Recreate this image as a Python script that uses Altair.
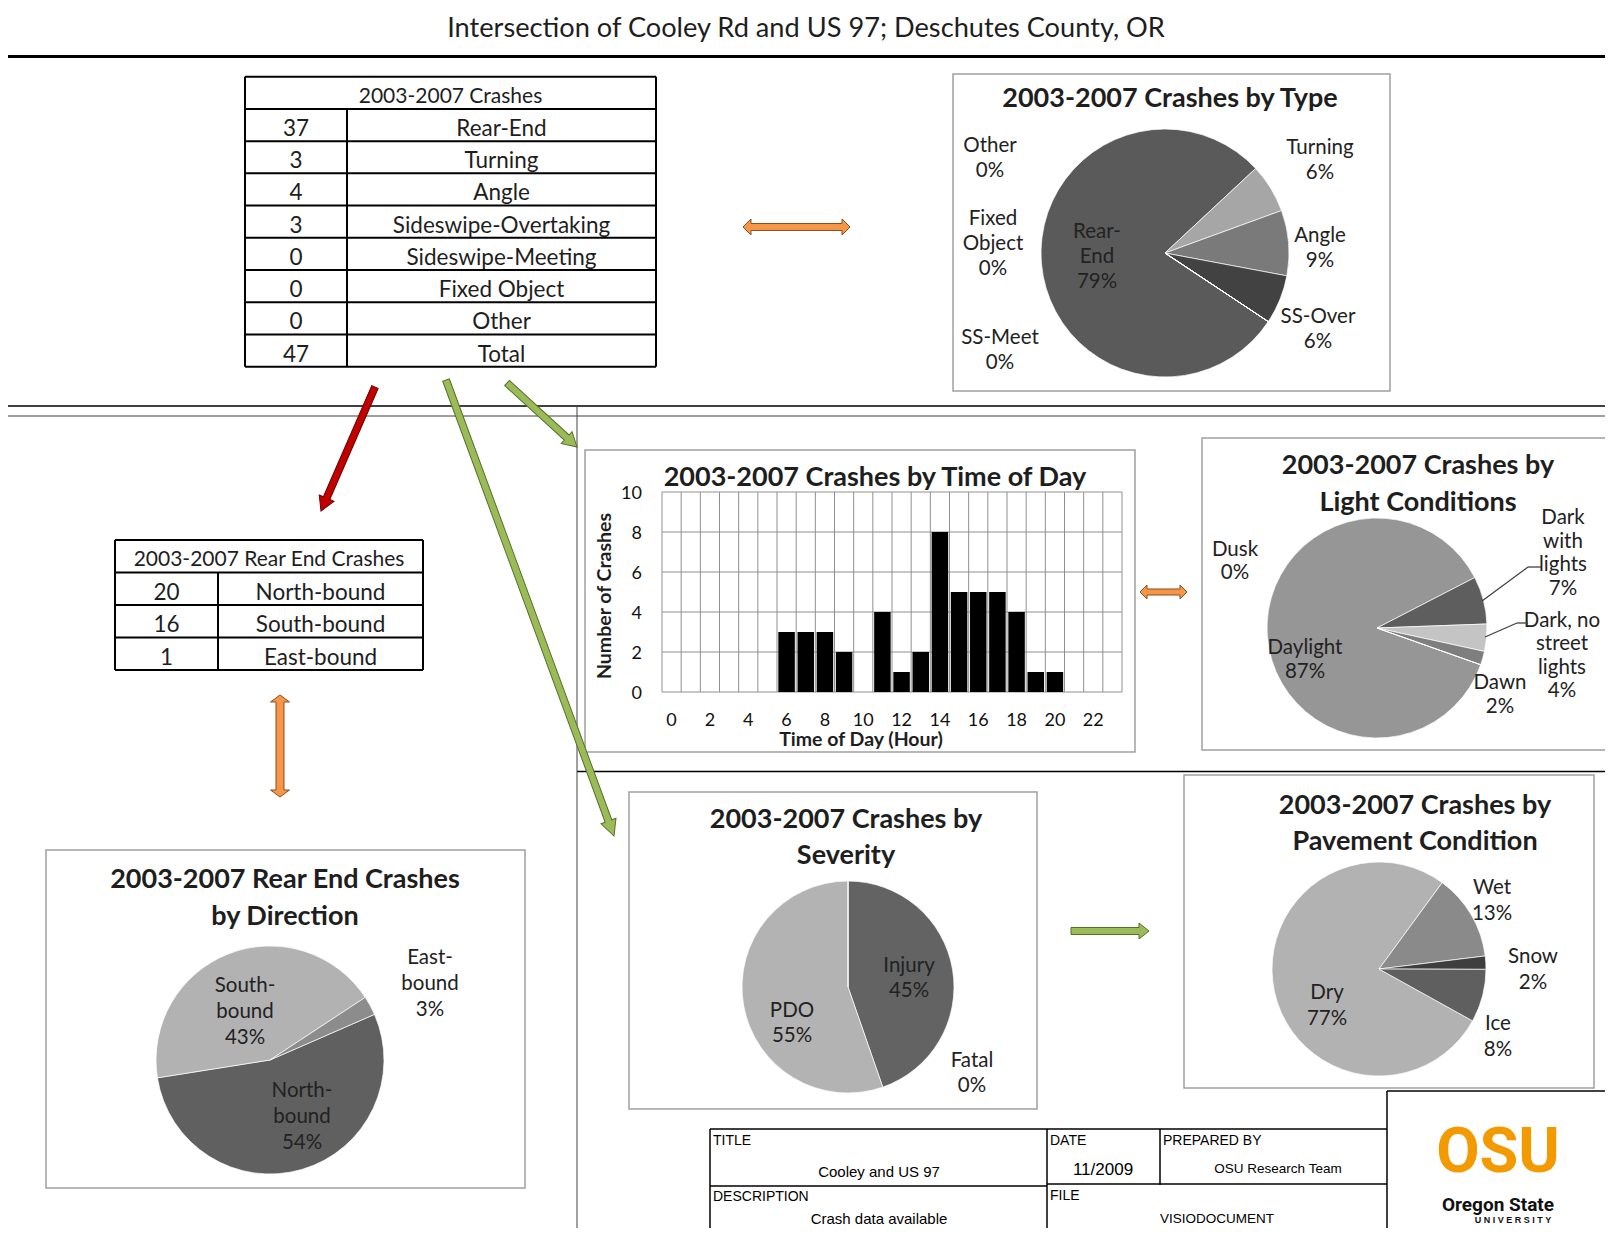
import math
import altair as alt
import pandas as pd

# ---------------- data ----------------
type_names = ["Rear-End", "Turning", "Angle", "Sideswipe-Overtaking",
              "Sideswipe-Meeting", "Fixed Object", "Other"]
type_counts = [37, 3, 4, 3, 0, 0, 0]
type_pie_names = ["Rear-\nEnd", "Turning", "Angle", "SS-Over", "SS-Meet",
                  "Fixed\nObject", "Other"]

dir_names = ["North-bound", "South-bound", "East-bound"]
dir_counts = [20, 16, 1]
dir_pie_names = ["North-\nbound", "South-\nbound", "East-\nbound"]

hours = list(range(24))
hour_counts = [0, 0, 0, 0, 0, 0, 3, 3, 3, 2, 0, 4, 1, 2, 8, 5, 5, 5, 4, 1, 1, 0, 0, 0]
hour_ticks = list(range(0, 24, 2))
count_ticks = [0, 2, 4, 6, 8, 10]

light_names = ["Daylight", "Dark with lights", "Dark, no street lights", "Dawn", "Dusk"]
light_pie_names = ["Daylight", "Dark\nwith\nlights", "Dark, no\nstreet\nlights", "Dawn", "Dusk"]
light_pct = [87, 7, 4, 2, 0]

sev_names = ["Injury", "PDO", "Fatal"]
sev_counts = [21, 26, 0]

pave_names = ["Dry", "Wet", "Snow", "Ice"]
pave_pct = [77, 13, 2, 8]

# ---------------- layout (reference pixel coordinates) ----------------
OFF = 8          # page margin: canvas pixel = reference pixel - OFF
W, H = 1597, 1220
FONT = "Lato"
TXT = "#1e1e1e"
DY = 3           # optical shift of Lato's middle baseline


def P(v):
    return v - OFF


def layout_text(rows, size, weight="normal", font=FONT, color=TXT,
                align="center", baseline="middle", angle=0, lh=None, dy=DY):
    df = pd.DataFrame(rows, columns=["x", "y", "t"])
    df["x"] = df["x"] - OFF
    df["y"] = df["y"] - OFF
    return alt.Chart(df).mark_text(
        font=font, fontSize=size, fontWeight=weight, color=color, align=align,
        baseline=baseline, angle=angle, lineBreak="\n", dy=dy,
        lineHeight=lh if lh else size * 1.25,
    ).encode(x=alt.X("x:Q", scale=None), y=alt.Y("y:Q", scale=None), text="t:N")


def layout_rules(segs, color, width):
    df = pd.DataFrame(segs, columns=["x", "y", "x2", "y2"]) - OFF
    return alt.Chart(df).mark_rule(color=color, strokeWidth=width).encode(
        x=alt.X("x:Q", scale=None), y=alt.Y("y:Q", scale=None), x2="x2:Q", y2="y2:Q")


def layout_frames(boxes, color, width):
    df = pd.DataFrame(boxes, columns=["x", "y", "x2", "y2"]) - OFF
    return alt.Chart(df).mark_rect(fillOpacity=0, stroke=color, strokeWidth=width).encode(
        x=alt.X("x:Q", scale=None), y=alt.Y("y:Q", scale=None), x2="x2:Q", y2="y2:Q")


def arrow_path(L, t, h, k, double):
    s = 2.0 / L
    t, h, k = t * s, h * s, k * s
    if double:
        pts = [(-1, 0), (-1 + k, -h), (-1 + k, -t), (1 - k, -t), (1 - k, -h), (1, 0),
               (1 - k, h), (1 - k, t), (-1 + k, t), (-1 + k, h)]
    else:
        pts = [(-1, -t), (1 - k, -t), (1 - k, -h), (1, 0), (1 - k, h), (1 - k, t), (-1, t)]
    return "M" + " L".join(f"{x:.4f},{y:.4f}" for x, y in pts) + " Z"


def arrow(x0, y0, x1, y1, t, h, k, double, fill, stroke):
    L = math.hypot(x1 - x0, y1 - y0)
    ang = math.degrees(math.atan2(y1 - y0, x1 - x0)) % 360
    df = pd.DataFrame({"x": [(x0 + x1) / 2 - OFF], "y": [(y0 + y1) / 2 - OFF]})
    return alt.Chart(df).mark_point(
        shape=arrow_path(L, t, h, k, double), size=L * L, angle=ang, filled=True,
        fill=fill, stroke=stroke, strokeWidth=1, opacity=1,
    ).encode(x=alt.X("x:Q", scale=None), y=alt.Y("y:Q", scale=None))


def table(header, left_col, right_col, L, R, T, B, split):
    n = len(left_col) + 1
    sx = alt.Scale(domain=[0, 1], range=[P(L), P(R)])
    sy = alt.Scale(domain=[0, n], range=[P(T), P(B)])
    f = (split - L) / (R - L)
    cells = []
    for i, (a, b) in enumerate(zip(left_col, right_col)):
        cells.append({"c": f / 2, "r": i + 1.5, "t": str(a)})
        cells.append({"c": (f + 1) / 2, "r": i + 1.5, "t": b})
    text = alt.Chart(pd.DataFrame(cells)).mark_text(
        font=FONT, fontSize=22.5, color=TXT, baseline="middle", dy=4).encode(
        x=alt.X("c:Q", scale=sx, axis=None), y=alt.Y("r:Q", scale=sy, axis=None), text="t:N")
    head = alt.Chart(pd.DataFrame([{"c": 0.5, "r": 0.5, "t": header}])).mark_text(
        font=FONT, fontSize=21, color=TXT, baseline="middle", dy=4).encode(
        x=alt.X("c:Q", scale=sx, axis=None), y=alt.Y("r:Q", scale=sy, axis=None), text="t:N")
    hl = pd.DataFrame({"r": list(range(n + 1)), "a": 0.0, "b": 1.0})
    hrules = alt.Chart(hl).mark_rule(color="black", strokeWidth=2).encode(
        y=alt.Y("r:Q", scale=sy, axis=None), x=alt.X("a:Q", scale=sx, axis=None), x2="b:Q")
    vl = pd.DataFrame({"c": [0.0, 1.0, f], "r0": [0, 0, 1], "r1": [n, n, n]})
    vrules = alt.Chart(vl).mark_rule(color="black", strokeWidth=2).encode(
        x=alt.X("c:Q", scale=sx, axis=None), y=alt.Y("r0:Q", scale=sy, axis=None), y2="r1:Q")
    return alt.layer(hrules, vrules, text, head)


def pie(names, disp, vals, colors, start_deg, cx, cy, r, label_pos, lh, pct=None):
    total = sum(vals)
    df = pd.DataFrame({"cat": names, "v": vals, "i": list(range(len(names)))})
    a = math.radians(start_deg)
    arcs = alt.Chart(df).mark_arc(radius=r, stroke="white", strokeWidth=0.7).encode(
        theta=alt.Theta("v:Q", stack=True,
                        scale=alt.Scale(domain=[0, total], range=[a, a + 2 * math.pi])),
        color=alt.Color("cat:N", scale=alt.Scale(domain=names, range=colors), legend=None),
        order=alt.Order("i:Q"),
        x=alt.value(P(cx)), y=alt.value(P(cy)),
    )
    rows = []
    for nm, d, v in zip(names, disp, vals):
        p = round(100 * v / total) if pct is None else v
        x, y = label_pos[nm]          # position of the label's first line
        rows.append((x, y, f"{d}\n{p}%"))
    labels = layout_text(rows, 20.5, color="#222222", lh=lh)
    return alt.layer(arcs, labels)


layers = []

# ---- structural lines and frames ----
layers.append(layout_rules([
    (0, 56.5, 1613, 56.5)], "black", 3))
layers.append(layout_rules([
    (0, 406, 1613, 406), (577, 771.5, 1613, 771.5),
    (1387, 1091, 1613, 1091), (1387, 1091, 1387, 1236),
    (710, 1129, 1387, 1129), (710, 1129, 710, 1236),
    (1047, 1129, 1047, 1236), (1160, 1129, 1160, 1185),
    (710, 1186, 1047, 1186), (1047, 1184, 1387, 1184)], "black", 1.5))
layers.append(layout_rules([(0, 416, 1613, 416)], "#7f7f7f", 1.5))
layers.append(layout_rules([(577, 406, 577, 1236)], "#404040", 1))
layers.append(layout_frames([
    (953, 74, 1390, 391), (585, 450, 1135, 752), (1202, 438, 1612, 750),
    (46, 850, 525, 1188), (629, 792, 1037, 1109), (1184, 775, 1594, 1088)],
    "#a0a0a0", 1.5))

# ---- page title ----
layers.append(layout_text([(806, 26, "Intersection of Cooley Rd and US 97; Deschutes County, OR")], 27.2))

# ---- tables ----
layers.append(table("2003-2007 Crashes", type_counts + [sum(type_counts)],
                    type_names + ["Total"], 245, 656, 76.7, 366.7, 347))
layers.append(table("2003-2007 Rear End Crashes", dir_counts, dir_names,
                    115, 423, 540, 670, 218))

# ---- arrows ----
ORF, ORS = "#f79646", "#8a4f1f"
GRF, GRS = "#9bbb59", "#56702c"
layers.append(arrow(743, 227, 850, 227, 3.5, 8, 8, True, ORF, ORS))
layers.append(arrow(1140, 592, 1187, 592, 3, 7, 7, True, ORF, ORS))
layers.append(arrow(280, 695, 280, 797, 4, 9.5, 7, True, ORF, ORS))
layers.append(arrow(375, 387, 321, 511, 3.5, 8, 14, False, "#c00000", "#6d0000"))
layers.append(arrow(446, 380, 614, 836, 3.5, 8, 16, False, GRF, GRS))
layers.append(arrow(507, 383, 577, 447, 3.5, 8, 14, False, GRF, GRS))
layers.append(arrow(1071, 931, 1149, 931, 3.5, 8, 10, False, GRF, GRS))

# ---- bar chart: crashes by time of day ----
BAR_L, BAR_R, BAR_T, BAR_B = 662, 1122, 492, 692
bx = alt.Scale(domain=[0, 24], range=[P(BAR_L), P(BAR_R)])
by = alt.Scale(domain=[0, 10], range=[P(BAR_B), P(BAR_T)])
grid_v = alt.Chart(pd.DataFrame({"h": list(range(25)), "lo": 0, "hi": 10})).mark_rule(
    color="#8f8f8f", strokeWidth=1).encode(
    x=alt.X("h:Q", scale=bx, axis=None), y=alt.Y("lo:Q", scale=by, axis=None), y2="hi:Q")
grid_h = alt.Chart(pd.DataFrame({"c": count_ticks, "lo": 0, "hi": 24})).mark_rule(
    color="#8f8f8f", strokeWidth=1).encode(
    y=alt.Y("c:Q", scale=by, axis=None), x=alt.X("lo:Q", scale=bx, axis=None), x2="hi:Q")
bars = alt.Chart(pd.DataFrame({"hour": hours, "crashes": hour_counts})).transform_calculate(
    h0="datum.hour + 0.07", h1="datum.hour + 0.93", base="0").mark_rect(color="black").encode(
    x=alt.X("h0:Q", scale=bx, axis=None), x2="h1:Q",
    y=alt.Y("base:Q", scale=by, axis=None), y2="crashes:Q")
xlab = alt.Chart(pd.DataFrame({"h": hour_ticks})).transform_calculate(
    xc="datum.h + 0.5", yc="-1.45", lab="'' + datum.h").mark_text(
    font=FONT, fontSize=18, color="#111111", baseline="middle").encode(
    x=alt.X("xc:Q", scale=bx, axis=None), y=alt.Y("yc:Q", scale=by, axis=None), text="lab:N")
ylab = alt.Chart(pd.DataFrame({"c": count_ticks})).transform_calculate(
    xc="-1.05", lab="'' + datum.c").mark_text(
    font=FONT, fontSize=18, color="#111111", align="right", baseline="middle", dy=2).encode(
    x=alt.X("xc:Q", scale=bx, axis=None), y=alt.Y("c:Q", scale=by, axis=None), text="lab:N")
layers.append(alt.layer(grid_v, grid_h, bars, xlab, ylab))
layers.append(layout_text([(861, 737, "Time of Day (Hour)")], 19.5, weight="bold"))
layers.append(layout_text([(605, 596, "Number of Crashes")], 19.5, weight="bold", angle=270, dy=0))
layers.append(layout_text([(875, 475, "2003-2007 Crashes by Time of Day")], 27, weight="bold"))

# ---- pies ----
layers.append(pie(type_names, type_pie_names, type_counts,
                  ["#5a5a5a", "#a6a6a6", "#7a7a7a", "#424242", "#999999", "#bbbbbb", "#dddddd"],
                  123.6, 1165, 253, 124,
                  {"Rear-End": (1097, 229), "Turning": (1320, 144.7), "Angle": (1320, 233),
                   "Sideswipe-Overtaking": (1318, 314), "Sideswipe-Meeting": (1000, 334.7),
                   "Fixed Object": (993, 216.3), "Other": (990, 143)}, 25))
layers.append(layout_text([(1170, 96, "2003-2007 Crashes by Type")], 27, weight="bold"))

layers.append(pie(light_names, light_pie_names, light_pct,
                  ["#969696", "#5e5e5e", "#c4c4c4", "#7e7e7e", "#dddddd"],
                  109.5, 1377, 628, 110,
                  {"Daylight": (1305, 645), "Dark with lights": (1563, 515),
                   "Dark, no street lights": (1562, 617.7), "Dawn": (1500, 680),
                   "Dusk": (1235, 546.7)}, 23.5, pct=True))
layers.append(layout_rules([(1482, 601, 1528, 567), (1528, 567, 1541, 567),
                            (1485, 637, 1517, 623), (1517, 623, 1528, 623)], "#404040", 1.3))
layers.append(layout_text([(1418, 463, "2003-2007 Crashes by\nLight Conditions")], 27,
                          weight="bold", lh=37))

layers.append(pie(dir_names, dir_pie_names, dir_counts,
                  ["#606060", "#b2b2b2", "#8c8c8c"],
                  66.4, 270, 1060, 114,
                  {"North-bound": (302, 1087.7), "South-bound": (245, 983.3),
                   "East-bound": (430, 955)}, 26))
layers.append(layout_text([(285, 877, "2003-2007 Rear End Crashes\nby Direction")], 27,
                          weight="bold", lh=37))

layers.append(pie(sev_names, sev_names, sev_counts,
                  ["#636363", "#b3b3b3", "#dddddd"],
                  0, 848, 987, 106,
                  {"Injury": (909, 963.3), "PDO": (792, 1007.7), "Fatal": (972, 1057.7)}, 25))
layers.append(layout_text([(846, 817, "2003-2007 Crashes by\nSeverity")], 27,
                          weight="bold", lh=36))

layers.append(pie(pave_names, pave_names, pave_pct,
                  ["#b2b2b2", "#8a8a8a", "#3e3e3e", "#5f5f5f"],
                  119, 1379, 969, 107,
                  {"Dry": (1327, 990), "Wet": (1492, 885), "Snow": (1533, 954.3),
                   "Ice": (1498, 1020.7)}, 26, pct=True))
layers.append(layout_text([(1415, 803, "2003-2007 Crashes by\nPavement Condition")], 27,
                          weight="bold", lh=35.5))

# ---- title block ----
AR = "Liberation Sans"
layers.append(layout_text([(713, 1140, "TITLE"), (713, 1196, "DESCRIPTION"),
                           (1050, 1140, "DATE"), (1163, 1140, "PREPARED BY"),
                           (1050, 1195, "FILE")], 14, font=AR, color="black", align="left", dy=1))
layers.append(layout_text([(879, 1171, "Cooley and US 97"), (879, 1218, "Crash data available")],
                          15, font=AR, color="black", dy=1))
layers.append(layout_text([(1103, 1169, "11/2009")], 17, font=AR, color="black", dy=1))
layers.append(layout_text([(1278, 1168, "OSU Research Team"), (1217, 1218, "VISIODOCUMENT")],
                          13.5, font=AR, color="black", dy=1))

# ---- logo ----
layers.append(layout_text([(1498, 1172, "OSU")], 63, weight="bold", font="Roboto",
                          color="#f29a00", baseline="alphabetic", dy=0))
layers.append(layout_text([(1498, 1202, "Oregon State")], 19, weight="bold", font="Roboto",
                          color="#111111"))
layers.append(layout_text([(1513, 1219, "U N I V E R S I T Y")], 9, weight="bold",
                          font=AR, color="#111111", dy=1))

chart = alt.layer(*layers).resolve_scale(
    x="independent", y="independent", theta="independent", color="independent"
).properties(
    width=W, height=H, padding=0, autosize="none", background="white"
).configure_view(stroke=None)

chart.save("out.html", embed_options={"renderer": "svg", "actions": False})
